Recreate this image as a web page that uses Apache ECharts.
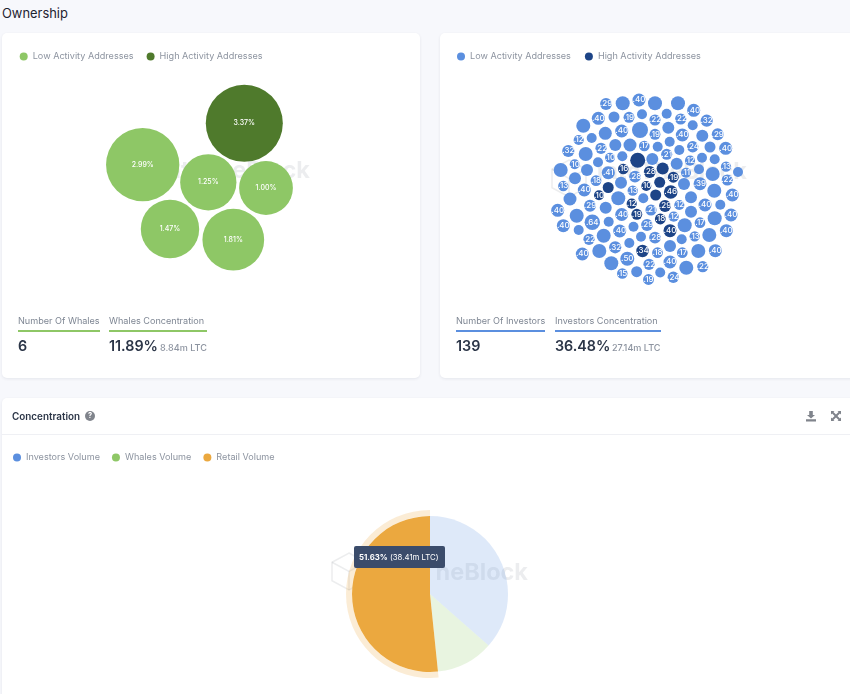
<!DOCTYPE html>
<html>
<head>
<meta charset="utf-8">
<title>Ownership</title>
<script src="https://cdn.jsdelivr.net/npm/echarts@6/dist/echarts.min.js"></script>
<style>
  html, body { margin: 0; padding: 0; }
  body { width: 850px; height: 694px; overflow: hidden; position: relative; background: #f7f8fc; font-family: Inter, "Noto Sans", sans-serif; }
  .abs { position: absolute; white-space: nowrap; }
  .card { position: absolute; background: #fff; border-radius: 5px; box-shadow: 0 1px 3px rgba(40, 50, 80, .09); }
  .chart { position: absolute; left: 0; top: 0; width: 100%; height: 100%; }
  .stat-name { font-size: 9.1px; color: #7f8794; line-height: 12px; }
  .stat-line { height: 2px; }
  .stat-num { font-size: 14.3px; font-weight: 600; color: #2b3547; line-height: 18px; }
  .stat-sub { font-size: 9.1px; font-weight: 500; color: #8d94a0; line-height: 12px; }
</style>
</head>
<body>
<div class="abs" style="left:2px;top:5px;font-size:12.9px;line-height:17px;color:#1d2330;">Ownership</div>

<div class="card" style="left:2px;top:33px;width:418px;height:345px;"><div class="chart" id="whales"></div></div>
<div class="card" style="left:440px;top:33px;width:420px;height:345px;"><div class="chart" id="investors"></div></div>
<div class="card" style="left:2px;top:398px;width:858px;height:310px;"><div class="chart" id="concentration" style="width:848px;height:296px;"></div></div>

<div class="abs stat-name" style="left:18px;top:315px;">Number Of Whales</div>
<div class="abs stat-line" style="left:18px;top:330px;width:82px;background:#8ec766;"></div>
<div class="abs stat-num" style="left:18px;top:337px;">6</div>
<div class="abs stat-name" style="left:109px;top:315px;">Whales Concentration</div>
<div class="abs stat-line" style="left:109px;top:330px;width:98px;background:#8ec766;"></div>
<div class="abs stat-num" style="left:109px;top:337px;">11.89%</div>
<div class="abs stat-sub" style="left:160px;top:342px;">8.84m LTC</div>

<div class="abs stat-name" style="left:456px;top:315px;">Number Of Investors</div>
<div class="abs stat-line" style="left:456px;top:330px;width:89px;background:#5b8fdf;"></div>
<div class="abs stat-num" style="left:456px;top:337px;">139</div>
<div class="abs stat-name" style="left:555px;top:315px;">Investors Concentration</div>
<div class="abs stat-line" style="left:555px;top:330px;width:106px;background:#5b8fdf;"></div>
<div class="abs stat-num" style="left:555px;top:337px;">36.48%</div>
<div class="abs stat-sub" style="left:612px;top:342px;">27.14m LTC</div>

<div class="abs" style="left:12px;top:409px;font-size:9.9px;line-height:14px;font-weight:600;color:#2b3547;">Concentration</div>
<div class="abs" style="left:85px;top:411px;width:10px;height:10px;border-radius:50%;background:#80848c;color:#fff;font-size:7.5px;line-height:10px;font-weight:700;text-align:center;">?</div>
<div class="abs" style="left:2px;top:434px;width:848px;height:1px;background:#eff0f4;"></div>
<svg class="abs" style="left:805px;top:410px;" width="12" height="12" viewBox="0 0 12 12"><path d="M4.2 1h3.6v4h2.2L6 8.6 2 5h2.2zM1 9.2h10V11.500H1z" fill="#80848c"/></svg>
<svg class="abs" style="left:831px;top:411px;" width="10" height="10" viewBox="0 0 10 10"><path d="M0 0h3.500L2.400 1.100 5 3.600 7.600 1.100 6.500 0H10v3.500L8.900 2.400 6.400 5l2.500 2.600L10 6.500V10H6.500l1.100-1.100L5 6.400 2.400 8.900 3.500 10H0V6.500l1.100 1.100L3.600 5 1.100 2.400 0 3.500z" fill="#80848c"/></svg>

<script>
(function() {
  'use strict';

  // x, y in page pixels, then share in %
  var whalesLow = [
    [142.7, 164.7, 2.99], [208.3, 182.3, 1.25], [266, 188, 1.00],
    [170, 229, 1.47], [233.3, 239.7, 1.81]
  ];
  var whalesHigh = [[244.3, 123.3, 3.37]];

  // x, y, share, visible label (the labels are clipped by the bubble in the original)
  var investorsLow = [
    [606, 104, 0.29, '.29'], [622.7, 103.3, 0.50, ''], [639, 100, 0.40, '.40'], [655, 103.3, 0.50, ''],
    [678, 103.3, 0.50, ''], [693.7, 110.3, 0.40, '.40'], [583.3, 125.7, 0.50, ''], [598.3, 118.3, 0.40, '.40'],
    [614, 117, 0.20, ''], [629, 117.3, 0.19, '.19'], [642, 114.3, 0.10, ''], [666.7, 113.7, 0.10, ''],
    [655, 120, 0.22, '.22'], [680.7, 119, 0.22, '.22'], [706.7, 120.7, 0.32, '.32'], [692.7, 125.3, 0.10, ''],
    [668.3, 127.7, 0.30, ''], [640, 130, 0.70, ''], [621.7, 131, 0.40, '.40'], [605.3, 133.3, 0.40, ''],
    [655, 134.3, 0.19, '.19'], [682.3, 135, 0.40, '.40'], [702.3, 135.7, 0.30, ''], [717.7, 134.3, 0.29, '.29'],
    [578.7, 140, 0.12, '.12'], [591.7, 138, 0.10, ''], [669.7, 141.7, 0.10, ''], [601, 148.3, 0.22, '.22'],
    [615.3, 145, 0.30, ''], [630, 145, 0.40, ''], [644.3, 146, 0.17, '.17'], [657.7, 146.7, 0.10, ''],
    [692.7, 146.7, 0.24, '.24'], [679.3, 150, 0.10, ''], [710, 147, 0.20, ''], [725.7, 148.3, 0.40, '.40'],
    [568.3, 151, 0.32, '.32'], [585.7, 154, 0.50, ''], [610, 157.7, 0.10, '.10'], [622.3, 156.3, 0.10, ''],
    [652.3, 159, 0.30, ''], [666.7, 154.3, 0.21, '.21'], [702, 157.7, 0.10, ''], [714.7, 159.3, 0.10, ''],
    [690, 160.7, 0.12, '.12'], [560.7, 170, 0.50, ''], [574.7, 164.3, 0.10, '.10'], [598, 162.3, 0.10, ''],
    [676.7, 163.7, 0.30, ''], [726, 166.7, 0.13, '.13'], [587, 170, 0.30, ''], [608.3, 172.7, 0.41, '.41'],
    [699, 169.3, 0.10, ''], [686, 172.7, 0.11, '.11'], [712.7, 174, 0.50, ''], [738, 172, 0.10, ''],
    [635, 176.7, 0.28, '.28'], [575, 178.3, 0.30, ''], [596, 180.7, 0.18, '.18'], [621, 182.7, 0.30, ''],
    [727.3, 180, 0.22, '.22'], [700, 183.7, 0.39, '.39'], [684, 184, 0.30, ''], [563.3, 186, 0.13, '.13'],
    [584.3, 190, 0.40, '.40'], [632.7, 190.7, 0.13, '.13'], [714.3, 190.7, 0.50, ''], [570, 199, 0.40, ''],
    [618.3, 198.3, 0.50, ''], [643.3, 198.3, 0.10, ''], [732.3, 195, 0.40, '.40'], [691, 197.3, 0.30, ''],
    [590, 205.7, 0.29, '.29'], [605.7, 207.7, 0.30, ''], [651, 210, 0.21, '.21'], [705, 205, 0.40, '.40'],
    [720.3, 204.7, 0.10, ''], [679.3, 205, 0.12, '.12'], [557.7, 210.3, 0.40, '.40'], [691, 211.7, 0.30, ''],
    [576.7, 215.7, 0.50, ''], [621.7, 214.5, 0.40, '.40'], [731, 215, 0.40, '.40'], [714.7, 218.3, 0.50, ''],
    [673.7, 216.7, 0.12, '.12'], [592.3, 222.3, 0.64, '.64'], [608.7, 221.7, 0.10, ''], [700, 222.7, 0.17, '.17'],
    [563.3, 225.7, 0.40, '.40'], [633.5, 226.7, 0.10, ''], [647, 225, 0.29, '.29'], [684.7, 225.3, 0.50, ''],
    [578.7, 230, 0.10, ''], [619.7, 231, 0.40, '.40'], [726.3, 230.7, 0.40, '.40'], [603.7, 235.7, 0.50, ''],
    [641, 236.7, 0.10, ''], [655, 237.7, 0.28, '.28'], [694.7, 236.3, 0.13, '.13'], [709.3, 235, 0.50, ''],
    [681.7, 239.3, 0.10, ''], [589, 239.3, 0.22, '.22'], [629.3, 243, 0.10, ''], [670, 246, 0.30, ''],
    [599.3, 251, 0.50, ''], [615.2, 247.3, 0.32, '.32'], [657.5, 252.7, 0.18, '.18'], [682.3, 252.7, 0.17, '.17'],
    [698.3, 251, 0.50, ''], [715.3, 250.7, 0.40, '.40'], [582.3, 254, 0.40, '.40'], [627.3, 258.7, 0.50, '.50'],
    [670, 262, 0.40, '.40'], [611.3, 263.3, 0.50, ''], [649, 264.3, 0.22, '.22'], [686.3, 267.7, 0.50, ''],
    [702.7, 266.7, 0.22, '.22'], [636.7, 271.7, 0.20, ''], [660.2, 272.5, 0.10, ''], [622.3, 273.5, 0.15, '.15'],
    [673.3, 277.2, 0.24, '.24'], [648.5, 279.5, 0.19, '.19']
  ];
  var investorsHigh = [
    [637.7, 160.2, 0.60, ''], [623.3, 169, 0.16, '.16'], [649.7, 172, 0.28, '.28'], [662.7, 168.5, 0.30, ''],
    [673.3, 177.2, 0.19, '.19'], [659.7, 182.3, 0.20, ''], [646.3, 186, 0.10, '.10'], [608.2, 187.5, 0.20, ''],
    [670.7, 192, 0.46, '.46'], [655.7, 195, 0.20, ''], [599, 195.3, 0.10, '.10'], [631.7, 203.7, 0.12, '.12'],
    [665, 206, 0.29, '.29'], [636.8, 214.3, 0.19, '.19'], [660.3, 219, 0.18, '.18'], [670, 230.7, 0.40, '.40'],
    [642.5, 251, 0.34, '.34']
  ];

  var volumeNames = ['Investors Volume', 'Whales Volume', 'Retail Volume'];
  var volumeShare = [36.48, 11.89, 51.63];
  var volumeLtc = [27.14, 8.84, 38.41];

  var FONT = 'Inter';

  function watermark(textRight, textMid, logoX, logoY) {
    var stroke = { stroke: 'rgba(40,50,70,.09)', lineWidth: 1.5, fill: 'none' };
    var w = 34, h = 37;
    return [
      {
        type: 'text', z: 0, silent: true,
        style: { x: textRight, y: textMid, text: 'IntoTheBlock', align: 'right', verticalAlign: 'middle',
          font: '700 23.5px ' + FONT, fill: 'rgba(40,50,70,.085)' }
      },
      {
        type: 'polygon', z: 0, silent: true, style: stroke,
        shape: { points: [[logoX + w / 2, logoY], [logoX + w, logoY + h / 4], [logoX + w, logoY + h * 3 / 4],
          [logoX + w / 2, logoY + h], [logoX, logoY + h * 3 / 4], [logoX, logoY + h / 4]] }
      },
      {
        type: 'polyline', z: 0, silent: true, style: stroke,
        shape: { points: [[logoX, logoY + h / 4], [logoX + w / 2, logoY + h / 2], [logoX + w, logoY + h / 4]] }
      },
      {
        type: 'line', z: 0, silent: true, style: stroke,
        shape: { x1: logoX + w / 2, y1: logoY + h / 2, x2: logoX + w / 2, y2: logoY + h }
      }
    ];
  }

  function legend(left, top, gap) {
    return {
      left: left, top: top, itemWidth: 8, itemHeight: 8, itemGap: gap, icon: 'circle',
      selectedMode: false,
      textStyle: { color: '#8d94a0', fontSize: 9.1, fontFamily: FONT }
    };
  }

  function bubbleSeries(name, rows, color, size, labelOf, fontSize) {
    return {
      name: name,
      type: 'scatter',
      data: rows,
      symbol: 'circle',
      symbolSize: function(v) { return size(v[2]); },
      itemStyle: { color: color, opacity: 1 },
      label: {
        show: true,
        position: 'inside',
        formatter: labelOf,
        color: '#fff',
        fontSize: fontSize,
        fontWeight: 500,
        fontFamily: FONT
      },
      emphasis: { disabled: true },
      animation: false
    };
  }

  // axes run in page pixels so the points can be read straight from the picture
  function bubbleChart(id, left, top, width, height, names, rowsLow, rowsHigh, colors, size, labelOf, fontSize, marks, leg) {
    var chart = echarts.init(document.getElementById(id));
    var lg = legend(leg[0], leg[1], leg[2]);
    lg.data = names;
    chart.setOption({
      animation: false,
      textStyle: { fontFamily: FONT },
      grid: { left: 0, right: 0, top: 0, bottom: 0 },
      xAxis: { type: 'value', show: false, min: left, max: left + width },
      yAxis: { type: 'value', show: false, inverse: true, min: top, max: top + height },
      legend: lg,
      graphic: marks,
      series: [
        bubbleSeries(names[0], rowsLow, colors[0], size, labelOf, fontSize),
        bubbleSeries(names[1], rowsHigh, colors[1], size, labelOf, fontSize)
      ]
    });
    return chart;
  }

  bubbleChart('whales', 2, 33, 418, 345,
    ['Low Activity Addresses', 'High Activity Addresses'],
    whalesLow, whalesHigh, ['#8ec766', '#4f7a2c'],
    function(v) { return 44 + 9.8 * v; },
    function(p) { return p.value[2].toFixed(2) + '%'; },
    7, watermark(308, 138, 120, 120), [12.7, 14, 13]);

  bubbleChart('investors', 440, 33, 420, 345,
    ['Low Activity Addresses', 'High Activity Addresses'],
    investorsLow, investorsHigh, ['#5b8fdf', '#1d4487'],
    function(v) { return 9 + 10 * v; },
    function(p) { return p.value[3]; },
    8, watermark(307, 139, 112, 127), [12, 14, 14]);

  // pie
  var pieChart = echarts.init(document.getElementById('concentration'));
  var pieColors = ['rgba(91,143,223,.2)', 'rgba(142,199,102,.2)', '#eba83f'];
  var ringColors = ['rgba(0,0,0,0)', 'rgba(0,0,0,0)', 'rgba(235,168,63,.22)'];
  var legendColors = ['#5b8fdf', '#8ec766', '#eba83f'];

  function slices(colors) {
    return volumeNames.map(function(name, i) {
      return { name: name, value: volumeShare[i], itemStyle: { color: colors[i] } };
    });
  }

  var pieLegend = legend(6, 50, 12);
  pieLegend.data = volumeNames.map(function(name, i) {
    return { name: name, itemStyle: { color: legendColors[i] } };
  });

  pieChart.setOption({
    animation: false,
    legend: pieLegend,
    graphic: watermark(526, 175, 330, 155),
    tooltip: {
      trigger: 'item',
      alwaysShowContent: true,
      transitionDuration: 0,
      position: [352, 148],
      backgroundColor: '#3b4c6b',
      borderWidth: 0,
      padding: [0, 6, 0, 5],
      extraCssText: 'box-shadow:none;border-radius:2px;height:22px;line-height:22px;',
      textStyle: { color: '#fff', fontSize: 7.8, fontFamily: FONT },
      formatter: function(p) {
        var i = p.dataIndex;
        return '<b>' + volumeShare[i].toFixed(2) + '%</b> (' + volumeLtc[i].toFixed(2) + 'm LTC)';
      }
    },
    series: [
      {
        type: 'pie', z: 3, center: [428, 196], radius: [0, 78], startAngle: 90, clockwise: true,
        data: slices(pieColors), label: { show: false }, labelLine: { show: false },
        emphasis: { disabled: true }, animation: false
      },
      {
        type: 'pie', z: 2, silent: true, center: [428, 196], radius: [78, 84], startAngle: 90, clockwise: true,
        data: slices(ringColors), label: { show: false }, labelLine: { show: false }, tooltip: { show: false },
        emphasis: { disabled: true }, animation: false
      }
    ]
  });
  pieChart.dispatchAction({ type: 'showTip', seriesIndex: 0, dataIndex: 2 });
}());
</script>
</body>
</html>
